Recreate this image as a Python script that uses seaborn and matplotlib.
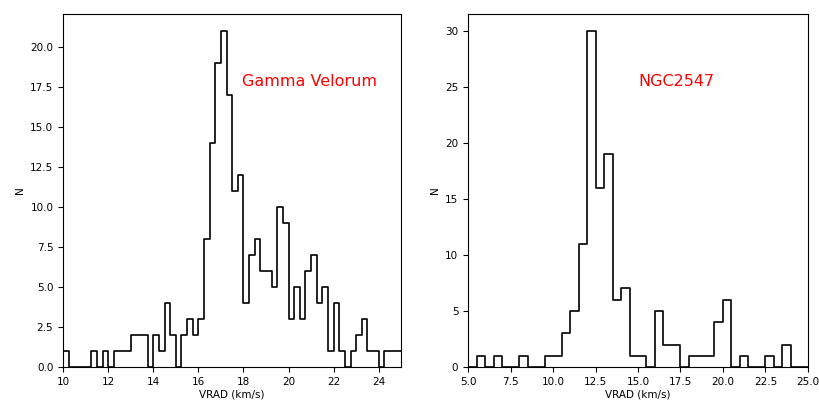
import numpy as np
import pandas as pd
import matplotlib
matplotlib.use("Agg")
import matplotlib.pyplot as plt
import seaborn as sns

# Gamma Velorum: counts per 0.25 km/s bin, from 10 to 25 km/s
gv_range = (10.0, 25.0)
gv_counts = [1, 0, 0, 0, 0, 1, 0, 1, 0, 1,
             1, 1, 2, 2, 2, 0, 2, 1, 4, 2,
             0, 2, 3, 2, 3, 8, 14, 19, 21, 17,
             11, 12, 4, 7, 8, 6, 6, 5, 10, 9,
             3, 5, 3, 6, 7, 4, 5, 1, 4, 1,
             0, 1, 2, 3, 1, 1, 0, 1, 1, 1]

# NGC2547: counts per 0.5 km/s bin, from 5 to 25 km/s
ngc_range = (5.0, 25.0)
ngc_counts = [0, 1, 0, 1, 0, 0, 1, 0, 0, 1,
              1, 3, 5, 11, 30, 16, 19, 6, 7, 1,
              1, 0, 5, 2, 2, 0, 1, 1, 1, 4,
              6, 0, 1, 0, 0, 1, 0, 2, 0, 0]

panels = [("Gamma Velorum", gv_range, gv_counts),
          ("NGC2547", ngc_range, ngc_counts)]


def draw_panel(ax, name, xrange, counts, label_pos):
    counts = np.asarray(counts, dtype=float)
    nbins = len(counts)
    edges = np.linspace(xrange[0], xrange[1], nbins + 1)
    df = pd.DataFrame({"vrad": (edges[:-1] + edges[1:]) / 2, "n": counts})
    sns.histplot(data=df, x="vrad", weights="n", bins=nbins, binrange=xrange,
                 element="step", fill=False, color="black", linewidth=1.2, ax=ax)
    ax.set_xlim(*xrange)
    ax.set_ylim(0, counts.max() * 1.05)
    ax.set_xlabel("VRAD (km/s)", fontsize=7.5, labelpad=2)
    ax.set_ylabel("N", fontsize=7.5)
    ax.tick_params(labelsize=7.5)
    ax.text(*label_pos, name, color="red", fontsize=11.5,
            ha="center", va="center", transform=ax.transAxes)


fig = plt.figure(figsize=(8.19, 4.01), dpi=100)
ax1 = fig.add_axes([0.077, 0.085, 0.413, 0.880])
ax2 = fig.add_axes([0.5715, 0.085, 0.415, 0.880])

draw_panel(ax1, *panels[0], label_pos=(0.73, 0.81))
draw_panel(ax2, *panels[1], label_pos=(0.612, 0.81))

fig.savefig("out.png", dpi=100)
plt.close(fig)
